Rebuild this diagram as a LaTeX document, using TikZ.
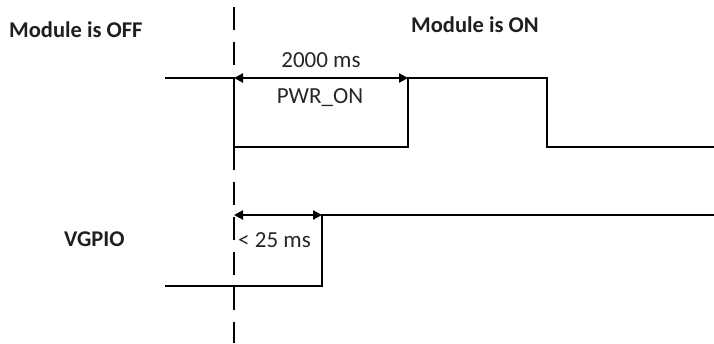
\documentclass[tikz,border=0pt]{standalone}
\usepackage{fontspec}
\setmainfont{Carlito}
\usetikzlibrary{arrows.meta}
\begin{document}
\begin{tikzpicture}[x=1pt,y=-1pt,
  sig/.style={line width=2.4pt,line join=miter},
  dim/.style={line width=2.2pt,{Triangle[length=9pt,width=9pt]}-{Triangle[length=9pt,width=9pt]}},
  guide/.style={line width=2.4pt,dash pattern=on 23pt off 12pt},
  lbl/.style={font=\fontsize{22.5}{26}\selectfont\bfseries,inner sep=0pt,text=black!88},
  txt/.style={font=\fontsize{23}{27}\selectfont,inner sep=0pt,text=black!85}]
\useasboundingbox (0,0) rectangle (714,343);
% labels
\node[lbl,anchor=base west] (off) at (9,37) {Module is OFF};
\node[lbl,anchor=base west] (on) at (411,32) {Module is ON};
\node[lbl,anchor=base west] (vg) at (64,246) {VGPIO};
\node[txt,anchor=base] (t2000) at (321,67) {2000 ms};
\node[txt,anchor=base] (pwr) at (320,103) {PWR\_ON};
\node[txt,anchor=base west] (t25) at (238,247) {< 25 ms};
% dashed guide
\coordinate (gtop) at (234,7);
\coordinate (gbot) at (234,343);
\draw[guide] (gtop) -- (gbot);
% PWR_ON signal
\coordinate (p0) at (165,78);
\coordinate (p1) at (234,78);
\coordinate (p2) at (234,147);
\coordinate (p3) at (408,147);
\coordinate (p4) at (408,78);
\coordinate (p5) at (547,78);
\coordinate (p6) at (547,147);
\coordinate (p7) at (714,147);
\draw[sig] (p0) -- (p1) -- (p2) -- (p3) -- (p4) -- (p5) -- (p6) -- (p7);
% VGPIO signal
\coordinate (v0) at (165,286);
\coordinate (v1) at (322,286);
\coordinate (v2) at (322,215);
\coordinate (v3) at (714,215);
\coordinate (va) at (234,215);
\draw[sig] (v0) -- (v1) -- (v2) -- (v3);
% dimension arrows
\draw[dim] (p1) -- (p4);
\draw[dim] (va) -- (v2);
\end{tikzpicture}
\end{document}
